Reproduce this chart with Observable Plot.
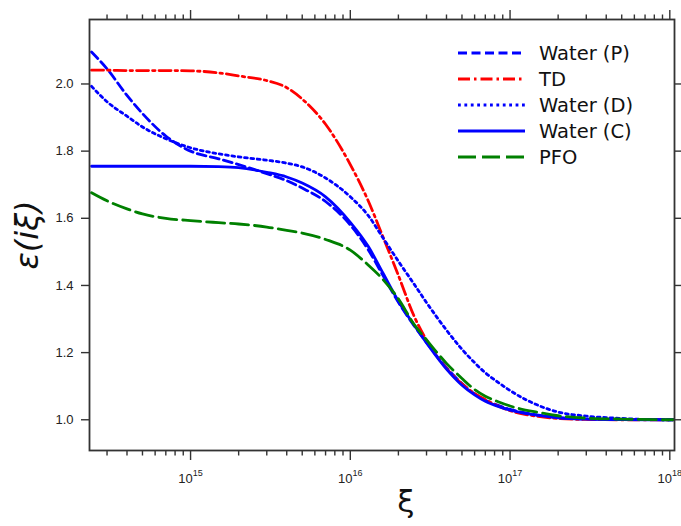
<!DOCTYPE html>
<html>
<head>
<meta charset="utf-8">
<script src="https://cdn.jsdelivr.net/npm/d3@7"></script>
<script src="https://cdn.jsdelivr.net/npm/@observablehq/plot@0.6"></script>
<style>
  html, body { margin: 0; padding: 0; background: #fff; }
</style>
</head>
<body>
<div id="chart"></div>
<script>
// ξ sample positions (rad/s)
const xi = [2.4e14, 3e14, 4e14, 5e14, 7e14, 1e15, 1.5e15, 2e15, 3e15, 4e15, 5e15, 7e15,
            1e16, 1.3e16, 1.6e16, 2e16, 2.5e16, 3e16, 4e16, 5e16, 6e16, 7e16, 8.5e16, 1e17,
            1.5e17, 2e17, 3e17, 5e17, 1e18, 1.05e18];

const waterP = [2.095, 2.045, 1.966, 1.912, 1.845, 1.800, 1.777, 1.760, 1.733, 1.712, 1.690, 1.650,
                1.580, 1.505, 1.430, 1.350, 1.281, 1.230, 1.155, 1.108, 1.077, 1.058, 1.042, 1.031,
                1.014, 1.007, 1.002, 1.001, 1.000, 1.000];
const td     = [2.041, 2.041, 2.040, 2.040, 2.040, 2.039, 2.033, 2.024, 2.010, 1.989, 1.955, 1.880,
                1.760, 1.650, 1.545, 1.430, 1.310, 1.237, 1.153, 1.107, 1.078, 1.060, 1.040, 1.027,
                1.010, 1.004, 1.001, 1.000, 1.000, 1.000];
const waterD = [1.993, 1.947, 1.904, 1.872, 1.837, 1.810, 1.792, 1.783, 1.773, 1.764, 1.753, 1.720,
                1.664, 1.607, 1.542, 1.472, 1.405, 1.349, 1.267, 1.210, 1.170, 1.140, 1.110, 1.087,
                1.043, 1.023, 1.011, 1.004, 1.000, 1.000];
const waterC = [1.755, 1.755, 1.755, 1.755, 1.755, 1.755, 1.754, 1.751, 1.737, 1.723, 1.705, 1.664,
                1.588, 1.515, 1.437, 1.353, 1.283, 1.229, 1.151, 1.103, 1.074, 1.055, 1.039, 1.029,
                1.013, 1.006, 1.002, 1.0005, 1.000, 1.000];
const pfo    = [1.676, 1.652, 1.628, 1.613, 1.600, 1.593, 1.587, 1.583, 1.574, 1.564, 1.556, 1.537,
                1.505, 1.460, 1.418, 1.360, 1.285, 1.238, 1.168, 1.123, 1.090, 1.070, 1.053, 1.041,
                1.022, 1.012, 1.005, 1.002, 1.000, 1.000];

const seriesNames = ["Water (P)", "TD", "Water (D)", "Water (C)", "PFO"];
const seriesValues = [waterP, td, waterD, waterC, pfo];
const seriesColors = ["#0000ff", "#ff0000", "#0000ff", "#0000ff", "#008000"];
const seriesDash = ["9,4.5", "12,4,2.5,4", "2.8,3.6", null, "18,6"];

const xMajorTicks = [1e15, 1e16, 1e17, 1e18];
const yTicks = [1.0, 1.2, 1.4, 1.6, 1.8, 2.0];

const xMinorTicks = [];
for (let d = 14; d <= 17; d++) for (let m = 2; m <= 9; m++) {
  const v = m * Math.pow(10, d);
  if (v > 2.33e14 && v < 1.07e18) xMinorTicks.push(v);
}

const tables = seriesValues.map((vals, k) => xi.map((x, i) => ({x, y: vals[i], s: seriesNames[k]})));

const axisStyle = {stroke: "#333", strokeWidth: 1.4, fontSize: 13, fill: "#222"};

const plot = Plot.plot({
  width: 681,
  height: 526,
  marginLeft: 89,
  marginRight: 7,
  marginTop: 19,
  marginBottom: 76,
  style: {fontFamily: "Liberation Sans, Arial, sans-serif", fontSize: "13px", color: "#222", background: "#fff"},
  x: {type: "log", domain: [2.33e14, 1.07e18], axis: null},
  y: {domain: [0.9085, 2.192], axis: null},
  marks: [
    ...tables.map((t, k) => Plot.line(t, {
      x: "x", y: "y", stroke: seriesColors[k], strokeWidth: 2.8,
      strokeDasharray: seriesDash[k] || undefined, curve: "monotone-x"
    })),
    Plot.frame({stroke: "#333", strokeWidth: 1.8}),
    // bottom axis
    Plot.axisX(xMajorTicks, {anchor: "bottom", tickSize: 10, tickPadding: 13, ...axisStyle,
      tickFormat: d => "10^" + Math.round(Math.log10(d)), label: null}),
    Plot.axisX(xMinorTicks, {anchor: "bottom", tickSize: 5.5, tickFormat: () => "", label: null, ...axisStyle}),
    // top axis
    Plot.axisX(xMajorTicks, {anchor: "top", tickSize: 10, tickFormat: () => "", label: null, ...axisStyle}),
    Plot.axisX(xMinorTicks, {anchor: "top", tickSize: 5.5, tickFormat: () => "", label: null, ...axisStyle}),
    // left axis
    Plot.axisY(yTicks, {anchor: "left", tickSize: 8, tickPadding: 8, tickFormat: d3.format(".1f"), label: null, ...axisStyle}),
    // right axis
    Plot.axisY(yTicks, {anchor: "right", tickSize: 7, tickFormat: () => "", label: null, ...axisStyle}),
    // axis titles
    Plot.text(["ξ"], {frameAnchor: "bottom", dx: 24, dy: 61, fontSize: 31, fill: "#111",
      fontFamily: "DejaVu Sans", textAnchor: "middle"}),
    Plot.text(["ε(iξ)"], {frameAnchor: "left", dx: -62, rotate: -90, fontSize: 32, fill: "#111",
      fontFamily: "DejaVu Sans", fontStyle: "italic", textAnchor: "middle"})
  ]
});

document.getElementById("chart").appendChild(plot);

// superscript exponents on the x tick labels
d3.select(plot).selectAll("text").each(function() {
  const t = this.textContent;
  const m = /^10\^(\d+)$/.exec(t);
  if (!m) return;
  const sel = d3.select(this);
  sel.text(null);
  sel.append("tspan").text("10");
  sel.append("tspan").attr("dy", -7).attr("font-size", 9).text(m[1]);
});

// legend inside the plot
const leg = d3.select(plot).append("g")
  .attr("font-family", "DejaVu Sans, sans-serif")
  .attr("font-size", 19.5)
  .attr("text-anchor", "start")
  .attr("fill", "#111");
seriesNames.forEach((name, k) => {
  const y = 53 + k * 26;
  leg.append("line")
    .attr("x1", 458).attr("x2", 525).attr("y1", y).attr("y2", y)
    .attr("stroke", seriesColors[k]).attr("stroke-width", 2.8)
    .attr("stroke-dasharray", seriesDash[k]);
  leg.append("text").attr("x", 539).attr("y", y + 7).attr("text-anchor", "start").text(name);
});
</script>
</body>
</html>
